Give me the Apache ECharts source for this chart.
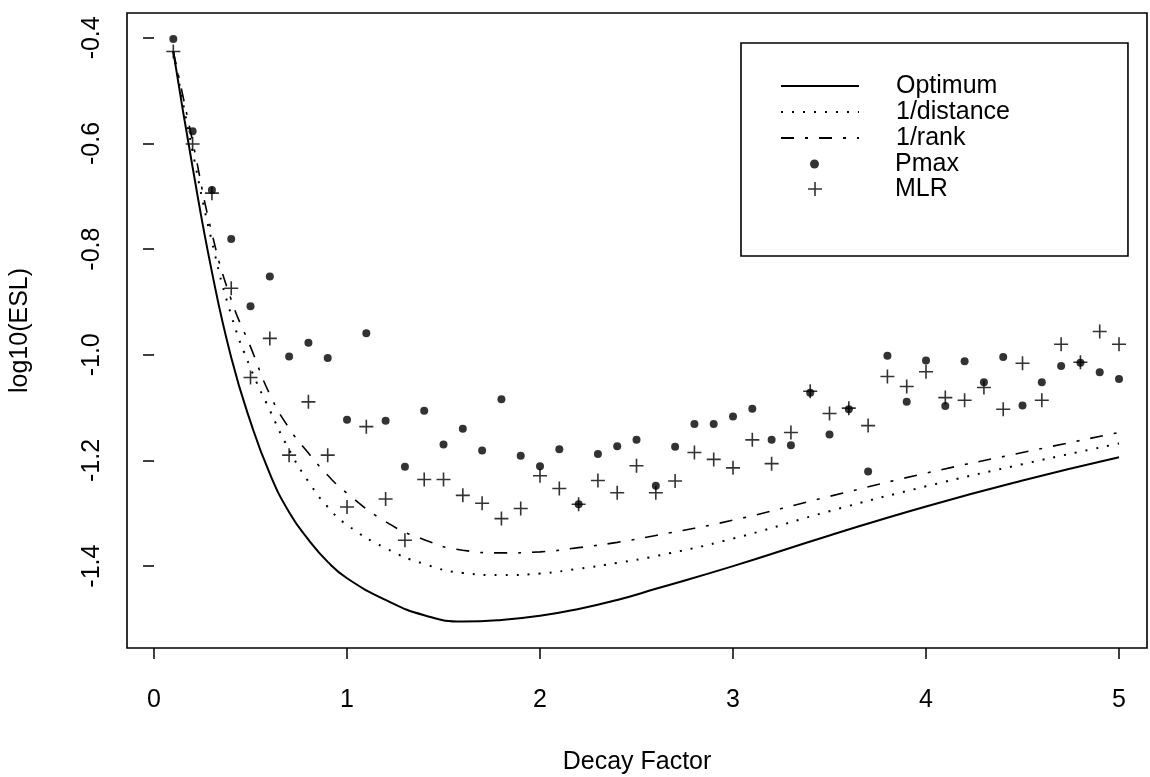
<!DOCTYPE html>
<html>
<head>
<meta charset="utf-8">
<script src="https://cdn.jsdelivr.net/npm/echarts@6/dist/echarts.min.js"></script>
<style>
  html, body { margin: 0; padding: 0; background: #fff; }
  #chart { width: 1150px; height: 777px; }
</style>
</head>
<body>
<div id="chart"></div>
<script>
// decay factor for the point series
const decay = [0.1, 0.2, 0.3, 0.4, 0.5, 0.6, 0.7, 0.8, 0.9, 1.0,
  1.1, 1.2, 1.3, 1.4, 1.5, 1.6, 1.7, 1.8, 1.9, 2.0,
  2.1, 2.2, 2.3, 2.4, 2.5, 2.6, 2.7, 2.8, 2.9, 3.0,
  3.1, 3.2, 3.3, 3.4, 3.5, 3.6, 3.7, 3.8, 3.9, 4.0,
  4.1, 4.2, 4.3, 4.4, 4.5, 4.6, 4.7, 4.8, 4.9, 5.0]

const pmax = [-0.402, -0.577, -0.688, -0.781, -0.908, -0.852, -1.003, -0.977, -1.006, -1.123,
  -0.959, -1.125, -1.212, -1.106, -1.170, -1.140, -1.181, -1.084, -1.191, -1.211,
  -1.179, -1.283, -1.188, -1.173, -1.161, -1.248, -1.174, -1.131, -1.131, -1.117,
  -1.102, -1.161, -1.171, -1.072, -1.151, -1.103, -1.221, -1.002, -1.089, -1.011,
  -1.097, -1.012, -1.052, -1.004, -1.096, -1.052, -1.021, -1.015, -1.033, -1.046]

const mlr = [-0.426, -0.601, -0.694, -0.874, -1.043, -0.969, -1.190, -1.089, -1.190, -1.288,
  -1.136, -1.273, -1.351, -1.236, -1.236, -1.266, -1.281, -1.310, -1.291, -1.229,
  -1.253, -1.283, -1.238, -1.261, -1.210, -1.261, -1.239, -1.185, -1.198, -1.214,
  -1.161, -1.206, -1.147, -1.069, -1.111, -1.101, -1.134, -1.041, -1.060, -1.032,
  -1.081, -1.086, -1.062, -1.103, -1.016, -1.086, -0.980, -1.014, -0.956, -0.980]

// decay factor where the curves were read
const curveX = [0.1, 0.2, 0.3, 0.4, 0.5, 0.6, 0.7, 0.8, 0.9, 1.0,
  1.2, 1.4, 1.6, 1.8, 2.0, 2.2, 2.4, 2.6, 3.0, 3.5, 4.0, 4.5, 5.0]

const optimum = [-0.426, -0.645, -0.843, -1.005, -1.127, -1.225, -1.298, -1.350, -1.392, -1.423,
  -1.464, -1.493, -1.505, -1.502, -1.494, -1.481, -1.464, -1.443, -1.400, -1.342, -1.287, -1.238, -1.194]

const invDistance = [-0.426, -0.615, -0.786, -0.925, -1.025, -1.105, -1.180, -1.240, -1.288, -1.322,
  -1.366, -1.396, -1.413, -1.417, -1.414, -1.405, -1.394, -1.381, -1.348, -1.296, -1.249, -1.207, -1.168]

const invRank = [-0.426, -0.596, -0.770, -0.896, -0.985, -1.075, -1.139, -1.186, -1.228, -1.262,
  -1.316, -1.350, -1.370, -1.375, -1.373, -1.365, -1.355, -1.342, -1.313, -1.268, -1.224, -1.185, -1.147]

const xTicks = [0, 1, 2, 3, 4, 5]
const yTicks = [-1.4, -1.2, -1.0, -0.8, -0.6, -0.4]

const FONT = '"Liberation Sans", Arial, Helvetica, sans-serif'
const PLUS = 'path://M-1.5,-13L1.5,-13L1.5,-1.5L13,-1.5L13,1.5L1.5,1.5L1.5,13L-1.5,13L-1.5,1.5L-13,1.5L-13,-1.5L-1.5,-1.5Z'

function zip(xs, ys) {
  return xs.map((x, i) => [x, ys[i]])
}

function curve(name, ys, type, width) {
  return {
    name: name,
    type: 'line',
    data: zip(curveX, ys),
    smooth: 0.5,
    symbol: 'none',
    showSymbol: false,
    itemStyle: { color: '#000' },
    lineStyle: { color: '#000', width: width, type: type },
    z: 2,
  }
}

const legendText = { color: '#000', fontFamily: FONT, fontSize: 25, lineHeight: 26 }

const chart = echarts.init(document.getElementById('chart'), null, { renderer: 'canvas' })

chart.setOption({
  animation: false,
  backgroundColor: '#fff',
  grid: {
    show: true,
    left: 127,
    right: 3,
    top: 13,
    bottom: 129,
    containLabel: false,
    outerBoundsMode: 'none',
    borderColor: '#000',
    borderWidth: 1.6,
  },
  xAxis: {
    type: 'value',
    min: -0.14,
    max: 5.145,
    name: 'Decay Factor',
    nameLocation: 'middle',
    nameGap: 102,
    nameTextStyle: { color: '#000', fontFamily: FONT, fontSize: 25 },
    axisLine: { show: false },
    splitLine: { show: false },
    axisTick: { show: true, inside: false, length: 11, customValues: xTicks, lineStyle: { color: '#000', width: 1.5 } },
    axisLabel: { customValues: xTicks, margin: 40, color: '#000', fontFamily: FONT, fontSize: 25 },
  },
  yAxis: {
    type: 'value',
    min: -1.555,
    max: -0.353,
    name: 'log10(ESL)',
    nameLocation: 'middle',
    nameGap: 94,
    nameTextStyle: { color: '#000', fontFamily: FONT, fontSize: 25 },
    axisLine: { show: false },
    splitLine: { show: false },
    axisTick: { show: true, inside: false, length: 11, customValues: yTicks, lineStyle: { color: '#000', width: 1.5 } },
    axisLabel: {
      customValues: yTicks,
      rotate: 90,
      margin: 22,
      color: '#000',
      fontFamily: FONT,
      fontSize: 25,
      formatter: v => v.toFixed(1),
    },
  },
  legend: [
    {
      data: ['Optimum', '1/distance', '1/rank'],
      orient: 'vertical',
      left: 741,
      top: 43,
      itemWidth: 78,
      itemHeight: 14,
      itemGap: 0,
      padding: [30, 118, 105, 39],
      borderColor: '#000',
      borderWidth: 1.6,
      itemStyle: { opacity: 0 },
      textStyle: Object.assign({ padding: [0, 0, 0, 32] }, legendText),
      selectedMode: false,
    },
    {
      data: ['Pmax'],
      orient: 'vertical',
      left: 810,
      top: 151,
      itemWidth: 9,
      itemHeight: 9,
      padding: 0,
      textStyle: Object.assign({ padding: [0, 0, 0, 71] }, legendText),
      selectedMode: false,
    },
    {
      data: ['MLR'],
      orient: 'vertical',
      left: 808,
      top: 176,
      itemWidth: 14,
      itemHeight: 14,
      padding: 0,
      textStyle: Object.assign({ padding: [0, 0, 0, 68] }, legendText),
      selectedMode: false,
    },
  ],
  series: [
    curve('Optimum', optimum, 'solid', 2),
    curve('1/distance', invDistance, [2, 9], 2),
    curve('1/rank', invRank, [13, 11, 3, 11], 1.6),
    {
      name: 'Pmax',
      type: 'scatter',
      data: zip(decay, pmax),
      symbol: 'circle',
      symbolSize: 8,
      itemStyle: { color: '#000' },
      z: 3,
    },
    {
      name: 'MLR',
      type: 'scatter',
      data: zip(decay, mlr),
      symbol: PLUS,
      symbolSize: 14,
      itemStyle: { color: '#000' },
      z: 3,
    },
  ],
})
</script>
</body>
</html>
